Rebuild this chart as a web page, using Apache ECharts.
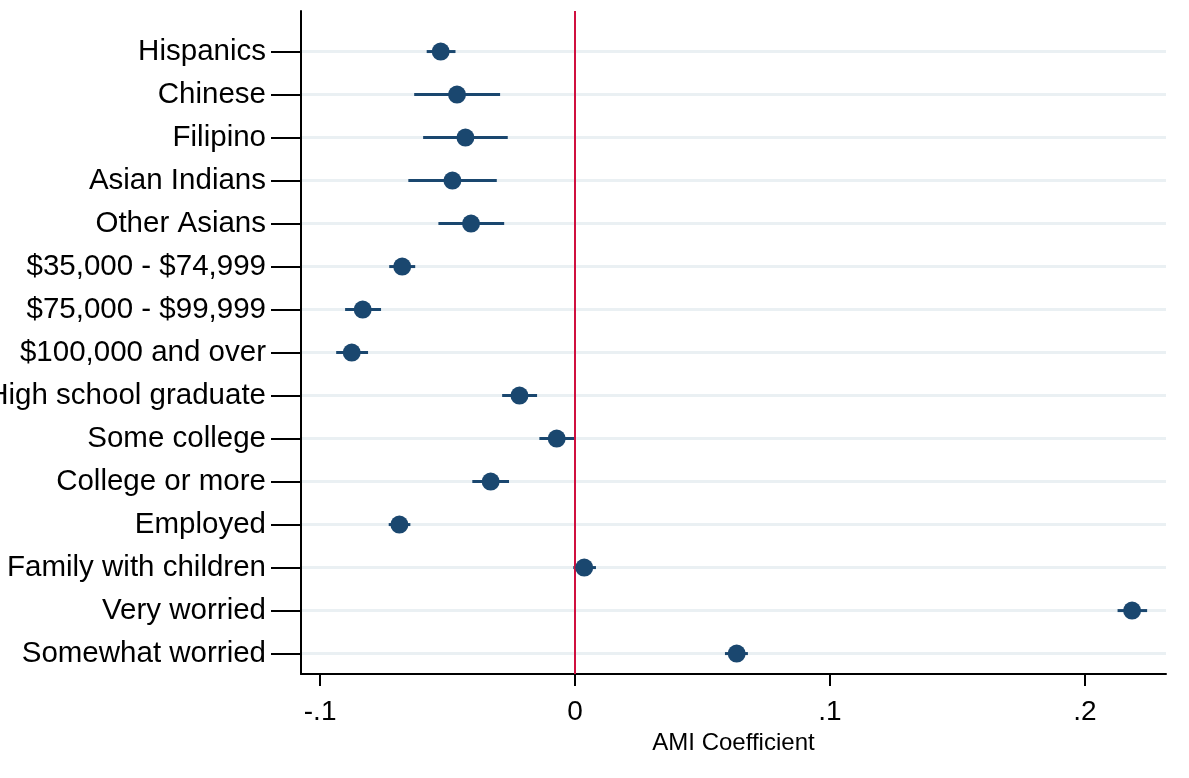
<!DOCTYPE html>
<html>
<head>
<meta charset="utf-8">
<script src="https://cdn.jsdelivr.net/npm/echarts@6/dist/echarts.min.js"></script>
<style>
  html, body { margin: 0; padding: 0; background: #fff; }
  #chart { width: 1189px; height: 778px; }
</style>
</head>
<body>
<div id="chart"></div>
<script>
// 各组名称（从上到下）
var categories = [
    "Hispanics", "Chinese", "Filipino", "Asian Indians", "Other Asians",
    "$35,000 - $74,999", "$75,000 - $99,999", "$100,000 and over",
    "High school graduate", "Some college", "College or more",
    "Employed", "Family with children", "Very worried", "Somewhat worried"
];
// 系数点估计
var coef = [-0.0527, -0.0463, -0.0430, -0.0481, -0.0408,
            -0.0678, -0.0833, -0.0876,
            -0.0218, -0.0072, -0.0331,
            -0.0689, 0.0036, 0.2185, 0.0634];
// 置信区间下限 / 上限
var ciLow = [-0.0582, -0.0631, -0.0596, -0.0654, -0.0536,
             -0.0729, -0.0902, -0.0937,
             -0.0286, -0.0140, -0.0403,
             -0.0731, -0.0007, 0.2128, 0.0588];
var ciHigh = [-0.0469, -0.0294, -0.0264, -0.0307, -0.0278,
              -0.0627, -0.0761, -0.0812,
              -0.0149, -0.0004, -0.0259,
              -0.0646, 0.0082, 0.2244, 0.0678];
// x轴刻度
var xTicks = [-0.1, 0, 0.1, 0.2];
var xTickLabels = ["-.1", "0", ".1", ".2"];

var navy = "#1a476f";
var rowIdx = categories.map(function (c, i) { return i; });

var myChart = echarts.init(document.getElementById("chart"));

var option = {
    animation: false,
    backgroundColor: "#fff",
    textStyle: { fontFamily: "Liberation Sans, Arial, sans-serif" },
    grid: { left: 301, right: 23, top: 11, bottom: 104, outerBoundsMode: "none" },
    xAxis: {
        type: "value",
        min: -0.1075,
        max: 0.2318,
        name: "AMI Coefficient",
        nameLocation: "middle",
        nameGap: 50,
        nameTextStyle: { color: "#000", fontSize: 24 },
        axisLine: { show: true, onZero: false, lineStyle: { color: "#000", width: 2 } },
        axisTick: { show: true, length: 12, customValues: xTicks, lineStyle: { color: "#000", width: 2 } },
        axisLabel: {
            customValues: xTicks, color: "#000", fontSize: 28, margin: 24,
            formatter: function (v) { return xTickLabels[xTicks.indexOf(v)]; }
        },
        splitLine: { show: false }
    },
    yAxis: {
        type: "value",
        inverse: true,
        min: -0.943,
        max: 14.475,
        axisLine: { show: true, onZero: false, lineStyle: { color: "#000", width: 2 } },
        axisTick: { show: true, length: 30, customValues: rowIdx, lineStyle: { color: "#000", width: 2 } },
        axisLabel: {
            customValues: rowIdx, color: "#000", fontSize: 29.5, margin: 35,
            padding: [8, 0, 0, 0],
            formatter: function (v) { return categories[v]; }
        },
        splitLine: { show: true, lineStyle: { color: "#eaf0f3", width: 3 } }
    },
    series: [
        {
            // 置信区间
            type: "custom",
            z: 3,
            data: rowIdx.map(function (i) { return [ciLow[i], ciHigh[i], i]; }),
            encode: { x: [0, 1], y: 2 },
            renderItem: function (params, api) {
                var p1 = api.coord([api.value(0), api.value(2)]);
                var p2 = api.coord([api.value(1), api.value(2)]);
                return {
                    type: "line",
                    shape: { x1: p1[0], y1: p1[1], x2: p2[0], y2: p2[1] },
                    style: { stroke: navy, lineWidth: 3 }
                };
            },
            markLine: {
                silent: true,
                symbol: "none",
                label: { show: false },
                lineStyle: { color: "#d0103f", width: 2, type: "solid" },
                data: [{ xAxis: 0 }]
            }
        },
        {
            type: "scatter",
            z: 5,
            symbol: "circle",
            symbolSize: 18,
            itemStyle: { color: navy, opacity: 1 },
            data: rowIdx.map(function (i) { return [coef[i], i]; })
        }
    ]
};

myChart.setOption(option);
</script>
</body>
</html>
